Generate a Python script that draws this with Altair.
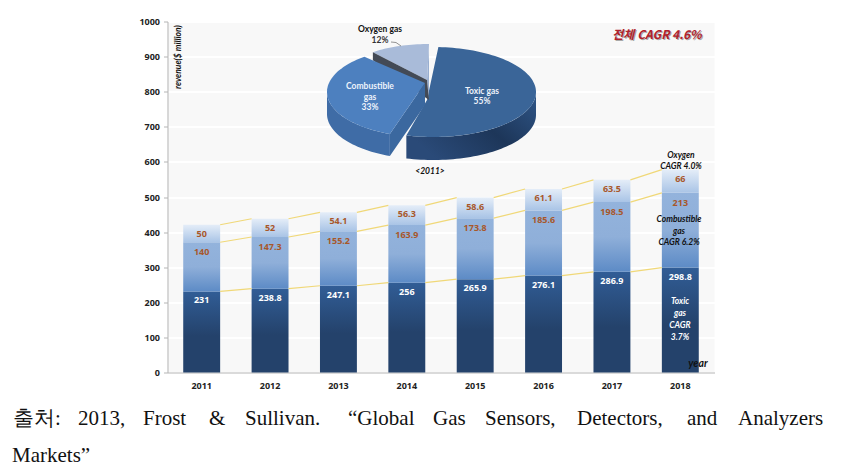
import math
import altair as alt
import pandas as pd

years = ["2011", "2012", "2013", "2014", "2015", "2016", "2017", "2018"]
toxic = [231, 238.8, 247.1, 256, 265.9, 276.1, 286.9, 298.8]
combustible = [140, 147.3, 155.2, 163.9, 173.8, 185.6, 198.5, 213]
oxygen = [50, 52, 54.1, 56.3, 58.6, 61.1, 63.5, 66]
pie_names = ["Toxic gas", "Combustible gas", "Oxygen gas"]
pie_shares = [55, 33, 12]

W, H = 547, 351
LEFT, TOP = 159.5, 13.5
OX, OY = LEFT + 8, TOP + 8
FONT = "Open Sans"
NOTE_FONT = "Lato"

rows = []
for i, y in enumerate(years):
    rows.append(dict(year=y, s="toxic", y0=0, y1=toxic[i], v=toxic[i]))
    rows.append(dict(year=y, s="comb", y0=toxic[i], y1=toxic[i] + combustible[i], v=combustible[i]))
    rows.append(dict(year=y, s="oxy", y0=toxic[i] + combustible[i], y1=toxic[i] + combustible[i] + oxygen[i], v=oxygen[i]))
df = pd.DataFrame(rows)


def grad(stops):
    return alt.Gradient(gradient="linear", x1=0, x2=0, y1=0, y2=1,
                        stops=[alt.GradientStop(offset=o, color=c) for o, c in stops])


PAD_INNER = 0.46
X_SCALE = alt.Scale(paddingInner=PAD_INNER, paddingOuter=PAD_INNER / 2)
Y_SCALE = alt.Scale(domain=[0, 1000])
X = alt.X("year:N", sort=years, scale=X_SCALE,
          axis=alt.Axis(title=None, labelAngle=0, labelFont=FONT, labelFontWeight="bold", labelFontSize=9,
                        labelColor="#222222", ticks=False, domainColor="#b5b5b5", labelPadding=9, grid=False))
Y_AXIS = alt.Axis(title=None, values=list(range(0, 1001, 100)), format="d", labelOverlap=False,
                  labelFont=FONT, labelFontWeight="bold",
                  labelFontSize=9, labelColor="#222222", tickColor="#b5b5b5", tickSize=4, domainColor="#b5b5b5",
                  gridColor="#ffffff", gridWidth=2, labelPadding=4)


def Y(field):
    return alt.Y(field, scale=Y_SCALE, axis=Y_AXIS)


styles = {
    "toxic": [(0, "#315d96"), (0.55, "#24426b"), (1, "#24426b")],
    "comb": [(0, "#93b3dc"), (0.5, "#8fafd9"), (1, "#5d8bc6")],
    "oxy": [(0, "#e4edf8"), (1, "#a9c4e6")],
}
bars = [alt.Chart(df[df.s == s]).mark_bar(fill=grad(st), stroke=None).encode(x=X, y=Y("y0:Q"), y2="y1:Q")
        for s, st in styles.items()]

# connector segments across the gaps between neighbouring bars
half_bar = (1 - PAD_INNER) / 2
seg_rows = []
for s in ["toxic", "comb", "oxy"]:
    tops = df[df.s == s]["y1"].tolist()
    for i in range(len(tops) - 1):
        seg_rows.append(dict(seg=f"{s}{i}", pos=i + 0.5 + half_bar, top=tops[i], o=0))
        seg_rows.append(dict(seg=f"{s}{i}", pos=i + 1.5 - half_bar, top=tops[i + 1], o=1))
conn = alt.Chart(pd.DataFrame(seg_rows)).mark_line(color="#f0d878", strokeWidth=1.2).encode(
    x=alt.X("pos:Q", scale=alt.Scale(domain=[0, len(years)]), axis=None),
    y=alt.Y("top:Q", scale=Y_SCALE, axis=None),
    detail="seg:N", order="o:Q")

# value labels
lab = df.copy()
lab["label"] = lab["v"].map(lambda v: f"{v:g}")
vals = []
for s, col, dy in [("toxic", "#ffffff", 9), ("comb", "#a8572a", 10), ("oxy", "#a8572a", 9)]:
    vals.append(alt.Chart(lab[lab.s == s]).mark_text(font=FONT, fontWeight="bold", fontSize=9, color=col, dy=dy).encode(
        x=X, y=Y("y1:Q"), text="label:N"))

# exploded 3D pie, built from its shares
cum = [0]
for p in pie_shares:
    cum.append(cum[-1] + p * 3.6)


def pt(cx, cy, a, b, t):
    r = math.radians(t)
    return cx + a * math.sin(r), cy - b * math.cos(r)


def arc(cx, cy, a, b, t0, t1):
    n = max(2, int(abs(t1 - t0) / 2))
    return [pt(cx, cy, a, b, t0 + (t1 - t0) * i / n) for i in range(n + 1)]


pie_geom = {
    "toxic": dict(c=(433, 92), a=103, b=45, apex=(427, 100), t=(cum[0] + 3, cum[1] - 3)),
    "comb": dict(c=(425, 92), a=98, b=45, apex=(425, 83), t=(cum[1] + 3, cum[2] + 5)),
    "oxy": dict(c=(429, 74), a=82, b=30, apex=(427, 80), t=(cum[2], cum[3])),
}
polys = []


def poly(points, fill):
    polys.append((points, fill))


TH = 23
g = pie_geom["toxic"]
front = arc(*g["c"], g["a"], g["b"], 90, g["t"][1])
poly(front + [(x, y + TH) for x, y in reversed(front)],
     alt.Gradient(gradient="linear", x1=1, x2=0, y1=0, y2=0.6,
                  stops=[alt.GradientStop(offset=0, color="#2f5688"), alt.GradientStop(offset=0.5, color="#1d3659"),
                         alt.GradientStop(offset=1, color="#2a4a78")]))
poly([g["apex"]] + arc(*g["c"], g["a"], g["b"], *g["t"]), "#3a6598")

g = pie_geom["oxy"]
tip = arc(*g["c"], g["a"], g["b"], g["t"][0], g["t"][0])[0]
end = arc(*g["c"], g["a"], g["b"], g["t"][1], g["t"][1])[0]
poly([end, (end[0], end[1] + 26), (g["apex"][0] + 2, g["apex"][1] + 20), g["apex"]], "#98aed0")
poly([g["apex"]] + arc(*g["c"], g["a"], g["b"], *g["t"]), "#a9bbd9")
poly([tip, (tip[0], tip[1] + 8), (g["apex"][0] + 2, g["apex"][1] + 20), g["apex"]], "#434a56")

g = pie_geom["comb"]
front = arc(*g["c"], g["a"], g["b"], g["t"][0], 270)
poly(front + [(x, y + 22) for x, y in reversed(front)], "#3f6ca6")
t0 = front[0]
poly([g["apex"], t0, (t0[0], t0[1] + 22), (g["apex"][0], g["apex"][1] + 22)], "#3b689f")
poly([g["apex"]] + arc(*g["c"], g["a"], g["b"], *g["t"]), "#4d80bf")

PX = alt.X("px:Q", scale=alt.Scale(domain=[0, W]), axis=None)
PY = alt.Y("py:Q", scale=alt.Scale(domain=[H, 0]), axis=None)
pie_layers = []
for pts, fill in polys:
    d = pd.DataFrame({"px": [p[0] - OX for p in pts], "py": [p[1] - OY for p in pts], "o": range(len(pts))})
    pie_layers.append(alt.Chart(d).mark_line(fill=fill, stroke=None, strokeWidth=0).encode(x=PX, y=PY, order="o:Q"))

# leader line of the oxygen label
leader = pd.DataFrame({"px": [391 - OX, 396 - OX, 401 - OX], "py": [42 - OY, 42.5 - OY, 46 - OY], "o": [0, 1, 2]})
leader_line = alt.Chart(leader).mark_line(color="#777777", strokeWidth=0.8).encode(x=PX, y=PY, order="o:Q")


def note(text, x, y, size=8.5, color="#111111", weight="bold", style="normal", align="center", font=NOTE_FONT, angle=0):
    opts = dict(font=font, fontSize=size, color=color, fontWeight=weight, fontStyle=style, align=align, baseline="middle")
    if angle:
        opts["angle"] = angle
    return alt.Chart(pd.DataFrame({"t": [text]})).mark_text(**opts).encode(
        x=alt.value(x - OX), y=alt.value(y - OY), text="t:N")


notes = [
    note("Oxygen gas", 380, 29), note("12%", 380, 40, color="#333333"),
    note("Combustible", 370, 86, color="#eef3fb"), note("gas", 370, 97, color="#eef3fb"), note("33%", 370, 107, color="#eef3fb"),
    note("Toxic gas", 482, 91, color="#eef3fb"), note("55%", 482, 101, color="#eef3fb"),
    note("<2011>", 430, 171, style="italic"),
    note("revenue($ million)", 178, 57, style="italic", angle=270),
    note("전체 CAGR 4.6%", 658, 36, size=12, color="#a9a9a9", style="italic", font="Noto Sans CJK KR"),
    note("전체 CAGR 4.6%", 657, 35, size=12, color="#b0222c", style="italic", font="Noto Sans CJK KR"),
    note("Oxygen", 681, 155, style="italic"), note("CAGR 4.0%", 681, 166, style="italic"),
    note("Combustible", 679, 219, style="italic"), note("gas", 679, 231, style="italic"), note("CAGR 6.2%", 679, 242, style="italic"),
    note("Toxic", 680, 301, color="#ffffff", style="italic"), note("gas", 680, 313, color="#ffffff", style="italic"),
    note("CAGR", 680, 325, color="#ffffff", style="italic"), note("3.7%", 680, 337, color="#ffffff", style="italic"),
    note("year", 698, 364, size=10.5, style="italic"),
]

caption_words = [("출처:", 13), ("2013,", 78), ("Frost", 143), ("&", 209), ("Sullivan.", 245), ("“Global", 348),
                 ("Gas", 433), ("Sensors,", 485), ("Detectors,", 577), ("and", 687), ("Analyzers", 738)]
caption = [note(w, x, 419, size=21, weight="normal", align="left", font="Liberation Serif") for w, x in caption_words]
caption.append(note("Markets”", 12, 456, size=21, weight="normal", align="left", font="Liberation Serif"))

base = alt.layer(*bars, *vals)
chart = alt.layer(base, conn, *pie_layers, leader_line, *notes, *caption).resolve_scale(x="independent", y="independent").properties(
    width=W, height=H,
    padding={"left": LEFT, "top": TOP, "right": 849 - 16 - LEFT - W, "bottom": 458 - TOP - H},
    autosize=alt.AutoSizeParams(type="none"),
    background="#ffffff",
).configure_view(fill="#f8f8f8", stroke=None)

chart.save("out.html", embed_options={"renderer": "svg", "actions": False})
